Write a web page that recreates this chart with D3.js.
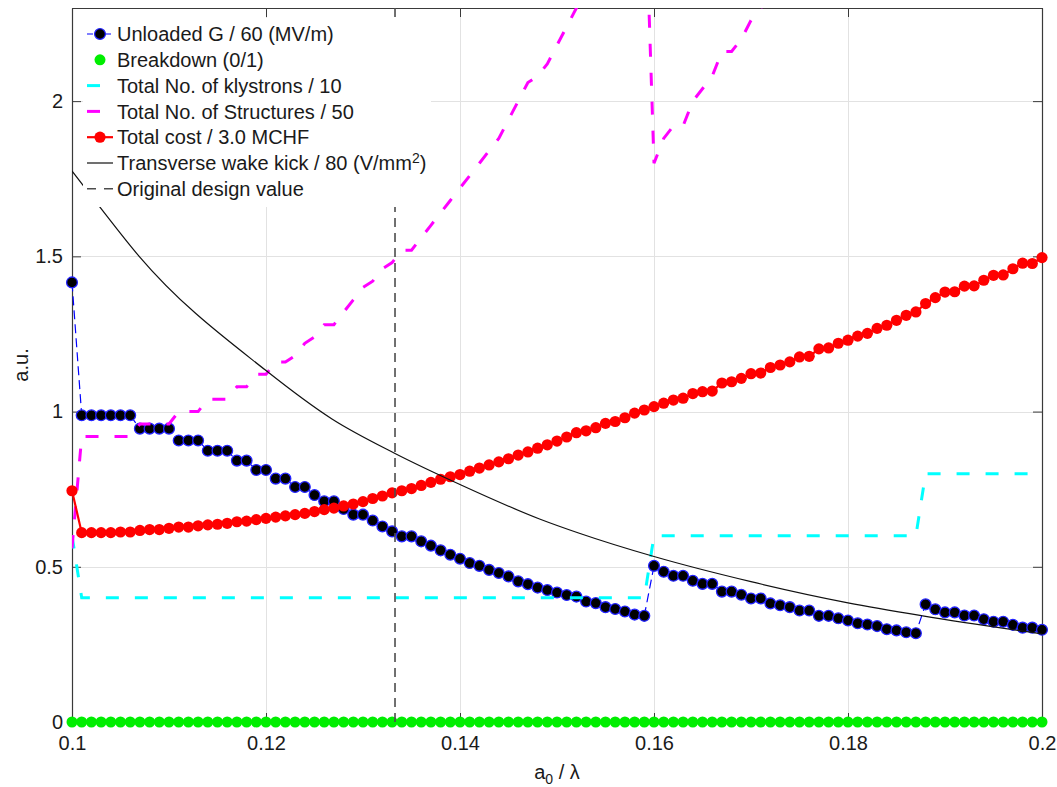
<!DOCTYPE html>
<html>
<head>
<meta charset="utf-8">
<script src="https://cdn.jsdelivr.net/npm/d3@7"></script>
<style>
  body { margin: 0; background: #fff; }
  svg { display: block; font-family: "Liberation Sans", Arial, Helvetica, sans-serif; }
</style>
</head>
<body>
<svg id="chart" width="1057" height="787"></svg>
<script>
// Aperture scan a0/lambda, one sample every 0.001
const aOverLambda = d3.range(101).map(i => +(0.1 + i * 0.001).toFixed(3));

// Unloaded gradient / 60 MV/m
const unloadedG = [
  1.416,
  0.988, 0.988, 0.988, 0.988, 0.988, 0.988,
  0.945, 0.945, 0.945, 0.945,
  0.907, 0.907, 0.907,
  0.874, 0.874, 0.874,
  0.842, 0.842,
  0.812, 0.812,
  0.784, 0.784,
  0.757, 0.757,
  0.731,
  0.711, 0.711,
  0.686,
  0.668, 0.668,
  0.649, 0.630, 0.614, 0.598, 0.598, 0.582, 0.568, 0.553, 0.539, 0.526,
  0.512, 0.503, 0.490, 0.480, 0.469, 0.453, 0.444, 0.433, 0.425, 0.417,
  0.409, 0.404, 0.388, 0.383, 0.370, 0.364, 0.356, 0.346, 0.342,
  0.503, 0.484, 0.471, 0.471, 0.455, 0.445, 0.445, 0.420, 0.420, 0.410,
  0.398, 0.398, 0.382, 0.376, 0.370, 0.359, 0.359, 0.342, 0.342, 0.334,
  0.327, 0.318, 0.314, 0.309, 0.299, 0.295, 0.289, 0.286,
  0.379, 0.363, 0.353, 0.353, 0.343, 0.343, 0.331, 0.323, 0.323, 0.313,
  0.304, 0.304, 0.297
];

// Breakdown flag (0 = no breakdown)
const breakdown = [
  0, 0, 0, 0, 0, 0, 0, 0, 0, 0, 0, 0, 0, 0, 0, 0, 0, 0, 0, 0,
  0, 0, 0, 0, 0, 0, 0, 0, 0, 0, 0, 0, 0, 0, 0, 0, 0, 0, 0, 0,
  0, 0, 0, 0, 0, 0, 0, 0, 0, 0, 0, 0, 0, 0, 0, 0, 0, 0, 0, 0,
  0, 0, 0, 0, 0, 0, 0, 0, 0, 0, 0, 0, 0, 0, 0, 0, 0, 0, 0, 0,
  0, 0, 0, 0, 0, 0, 0, 0, 0, 0, 0, 0, 0, 0, 0, 0, 0, 0, 0, 0,
  0
];

// Total number of klystrons / 10
const klystrons = [
  0.6,
  0.4, 0.4, 0.4, 0.4, 0.4, 0.4, 0.4, 0.4, 0.4, 0.4,
  0.4, 0.4, 0.4, 0.4, 0.4, 0.4, 0.4, 0.4, 0.4, 0.4,
  0.4, 0.4, 0.4, 0.4, 0.4, 0.4, 0.4, 0.4, 0.4, 0.4,
  0.4, 0.4, 0.4, 0.4, 0.4, 0.4, 0.4, 0.4, 0.4, 0.4,
  0.4, 0.4, 0.4, 0.4, 0.4, 0.4, 0.4, 0.4, 0.4, 0.4,
  0.4, 0.4, 0.4, 0.4, 0.4, 0.4, 0.4, 0.4, 0.4,
  0.6, 0.6, 0.6, 0.6, 0.6, 0.6, 0.6, 0.6, 0.6, 0.6,
  0.6, 0.6, 0.6, 0.6, 0.6, 0.6, 0.6, 0.6, 0.6, 0.6,
  0.6, 0.6, 0.6, 0.6, 0.6, 0.6, 0.6, 0.6,
  0.8, 0.8, 0.8, 0.8, 0.8, 0.8, 0.8, 0.8, 0.8, 0.8,
  0.8, 0.8, 0.8
];

// Total number of accelerating structures / 50
const structures = [
  0.56,
  0.92, 0.92, 0.92, 0.92, 0.92, 0.92,
  0.96, 0.96, 0.96, 0.96,
  1.00, 1.00, 1.00,
  1.04, 1.04, 1.04,
  1.08, 1.08,
  1.12, 1.12,
  1.16, 1.16,
  1.18, 1.22, 1.24, 1.28, 1.28, 1.32, 1.36, 1.40, 1.42, 1.46,
  1.48, 1.52, 1.52, 1.56, 1.60, 1.64, 1.68, 1.72, 1.76, 1.80,
  1.84, 1.88, 1.94, 2.00, 2.06, 2.08, 2.12, 2.18, 2.24, 2.30,
  2.36, 2.44, 2.50, 2.58, 2.64, 2.70, 2.76,
  1.80, 1.88, 1.92, 1.92, 2.00, 2.04, 2.08, 2.16, 2.16, 2.20,
  2.26, 2.30, 2.34, 2.40, 2.44, 2.48, 2.54, 2.58, 2.62, 2.68,
  2.72, 2.78, 2.82, 2.88, 2.92, 2.98, 3.04, 3.10,
  2.50, 2.54, 2.60, 2.64, 2.70, 2.74, 2.80, 2.86, 2.90, 2.96,
  3.02, 3.06, 3.12
];

// Total cost / 3.0 MCHF
const totalCost = [
  0.745,
  0.610, 0.610, 0.610, 0.610, 0.612, 0.612, 0.617, 0.620, 0.620, 0.624,
  0.628, 0.628, 0.632, 0.635, 0.637, 0.640, 0.645, 0.647, 0.652, 0.656,
  0.660, 0.664, 0.668, 0.672, 0.678, 0.684, 0.689, 0.696, 0.702, 0.710,
  0.720, 0.728, 0.738, 0.745, 0.752, 0.762, 0.772, 0.782, 0.790, 0.797,
  0.808, 0.818, 0.828, 0.838, 0.848, 0.860, 0.870, 0.882, 0.893, 0.905,
  0.918, 0.932, 0.938, 0.948, 0.962, 0.968, 0.980, 0.995, 1.005, 1.016,
  1.027, 1.037, 1.043, 1.058, 1.064, 1.066, 1.092, 1.096, 1.107, 1.122,
  1.124, 1.142, 1.150, 1.160, 1.176, 1.178, 1.202, 1.205, 1.220, 1.230,
  1.243, 1.252, 1.268, 1.278, 1.294, 1.310, 1.321, 1.348, 1.367, 1.385,
  1.386, 1.404, 1.405, 1.423, 1.439, 1.440, 1.460, 1.478, 1.477, 1.496
];

// Transverse wake kick / 80 V/mm^2 (smooth curve through these samples)
const kickX = [0.100, 0.1028, 0.1069, 0.120, 0.1268, 0.1333, 0.140, 0.1482,
               0.1523, 0.160, 0.170, 0.180, 0.1877, 0.200];
const kickY = [1.775, 1.662, 1.501, 1.132, 0.976, 0.865, 0.765, 0.654,
               0.608, 0.533, 0.452, 0.384, 0.342, 0.284];

// Original design value of a0/lambda
const designValue = [0.1333];

const xTicks = [0.1, 0.12, 0.14, 0.16, 0.18, 0.2];
const xTickLabels = ["0.1", "0.12", "0.14", "0.16", "0.18", "0.2"];
const yTicks = [0, 0.5, 1, 1.5, 2];
const yTickLabels = ["0", "0.5", "1", "1.5", "2"];

const legendLabels = [
  "Unloaded G / 60 (MV/m)",
  "Breakdown (0/1)",
  "Total No. of klystrons / 10",
  "Total No. of Structures / 50",
  "Total cost / 3.0 MCHF",
  "Transverse wake kick / 80 (V/mm",
  "Original design value"
];

// ---- layout ----
const svg = d3.select("#chart");
const L = 72, R = 1042, T = 8, B = 722;
const x = d3.scaleLinear().domain([0.1, 0.2]).range([L, R]);
const y = d3.scaleLinear().domain([0, 2.3]).range([B, T]);
const FONT = 20;
const textColor = "#1a1a1a";
const axisColor = "#3a3a3a";

svg.append("defs").append("clipPath").attr("id", "plotClip")
  .append("rect").attr("x", L).attr("y", T).attr("width", R - L).attr("height", B - T);

// grid
const grid = svg.append("g").attr("stroke", "#e2e2e2").attr("stroke-width", 1);
grid.selectAll(".gx").data(xTicks.slice(1, -1)).join("line")
  .attr("x1", d => Math.round(x(d)) + 0.5).attr("x2", d => Math.round(x(d)) + 0.5)
  .attr("y1", T).attr("y2", B);
grid.selectAll(".gy").data(yTicks.slice(1)).join("line")
  .attr("y1", d => Math.round(y(d)) + 0.5).attr("y2", d => Math.round(y(d)) + 0.5)
  .attr("x1", L).attr("x2", R);

// axes (ticks pointing inward, box on all four sides)
function styleAxis(g) {
  g.select(".domain").attr("stroke", axisColor).attr("stroke-width", 1.2).attr("fill", "none");
  g.selectAll(".tick line").attr("stroke", axisColor).attr("stroke-width", 1);
  g.selectAll(".tick text").attr("fill", textColor)
    .style("font-size", FONT + "px").style("font-family", '"Liberation Sans", Arial, sans-serif');
}
const axes = svg.append("g");
axes.append("g").attr("transform", `translate(0,${B})`)
  .call(d3.axisBottom(x).tickValues(xTicks).tickFormat((d, i) => xTickLabels[i])
    .tickSizeInner(-9).tickSizeOuter(0).tickPadding(14))
  .call(styleAxis);
axes.append("g").attr("transform", `translate(0,${T})`)
  .call(d3.axisTop(x).tickValues(xTicks).tickFormat("").tickSizeInner(-9).tickSizeOuter(0))
  .call(styleAxis);
axes.append("g").attr("transform", `translate(${L},0)`)
  .call(d3.axisLeft(y).tickValues(yTicks).tickFormat((d, i) => yTickLabels[i])
    .tickSizeInner(-9).tickSizeOuter(0).tickPadding(9))
  .call(styleAxis);
axes.append("g").attr("transform", `translate(${R},0)`)
  .call(d3.axisRight(y).tickValues(yTicks).tickFormat("").tickSizeInner(-9).tickSizeOuter(0))
  .call(styleAxis);

// axis titles
const xl = svg.append("text").attr("x", (L + R) / 2).attr("y", 779)
  .attr("text-anchor", "middle").attr("fill", textColor).style("font-size", FONT + "px");
xl.append("tspan").text("a");
xl.append("tspan").attr("dy", 5).style("font-size", "14px").text("0");
xl.append("tspan").attr("dy", -5).text(" / λ");

svg.append("text").attr("transform", `translate(28,${(T + B) / 2}) rotate(-90)`)
  .attr("text-anchor", "middle").attr("fill", textColor).style("font-size", FONT + "px")
  .text("a.u.");

// ---- series ----
const pts = (ys) => aOverLambda.map((a, i) => [a, ys[i]]);
const line = d3.line().x(d => x(d[0])).y(d => y(d[1]));
const plot = svg.append("g");
const clipped = () => plot.append("g").attr("clip-path", "url(#plotClip)");

// unloaded gradient: blue dashed line + black dots with blue edge
clipped().append("path").datum(pts(unloadedG)).attr("d", line)
  .attr("fill", "none").attr("stroke", "#0000ff").attr("stroke-width", 1.2)
  .attr("stroke-dasharray", "9,5");
plot.append("g").selectAll("circle").data(pts(unloadedG)).join("circle")
  .attr("cx", d => x(d[0])).attr("cy", d => y(d[1])).attr("r", 5.4)
  .attr("fill", "#000").attr("stroke", "#2222ff").attr("stroke-width", 1.3);

// breakdown
plot.append("g").selectAll("circle").data(pts(breakdown)).join("circle")
  .attr("cx", d => x(d[0])).attr("cy", d => y(d[1])).attr("r", 5.5)
  .attr("fill", "#00ee00");

// klystrons
clipped().append("path").datum(pts(klystrons)).attr("d", line)
  .attr("fill", "none").attr("stroke", "#00ffff").attr("stroke-width", 3)
  .attr("stroke-dasharray", "13,16");

// structures
clipped().append("path").datum(pts(structures)).attr("d", line)
  .attr("fill", "none").attr("stroke", "#ff00ff").attr("stroke-width", 3)
  .attr("stroke-dasharray", "13,16");

// total cost
clipped().append("path").datum(pts(totalCost)).attr("d", line)
  .attr("fill", "none").attr("stroke", "#ff0000").attr("stroke-width", 2.2);
plot.append("g").selectAll("circle").data(pts(totalCost)).join("circle")
  .attr("cx", d => x(d[0])).attr("cy", d => y(d[1])).attr("r", 5.6)
  .attr("fill", "#ff0000");

// transverse wake kick
const kickLine = d3.line().curve(d3.curveMonotoneX).x(d => x(d[0])).y(d => y(d[1]));
clipped().append("path").datum(kickX.map((a, i) => [a, kickY[i]])).attr("d", kickLine)
  .attr("fill", "none").attr("stroke", "#111").attr("stroke-width", 1.2);

// original design value
clipped().selectAll(".design").data(designValue).join("line")
  .attr("x1", d => x(d)).attr("x2", d => x(d)).attr("y1", y(0)).attr("y2", T)
  .attr("stroke", "#4d4d4d").attr("stroke-width", 1.6).attr("stroke-dasharray", "9,6");

// ---- legend ----
const lg = svg.append("g");
lg.append("rect").attr("x", 83).attr("y", 18).attr("width", 348).attr("height", 189)
  .attr("fill", "#fff");
const rowY = i => 34 + i * 25.8;
const lx0 = 87, lx1 = 113, lxm = 100;
const rows = lg.selectAll(".row").data(legendLabels).join("g")
  .attr("transform", (d, i) => `translate(0,${rowY(i)})`);
rows.append("text").attr("x", 117).attr("dy", "0.36em").attr("fill", textColor)
  .style("font-size", FONT + "px")
  .each(function (d, i) {
    const t = d3.select(this);
    t.append("tspan").text(d);
    if (i === 5) {
      t.append("tspan").attr("dy", -7).style("font-size", "14px").text("2");
      t.append("tspan").attr("dy", 7).text(")");
    }
  });
// symbols
const sym = i => lg.append("g").attr("transform", `translate(0,${rowY(i)})`);
sym(0).append("line").attr("x1", lx0).attr("x2", lx1).attr("stroke", "#0000ff")
  .attr("stroke-width", 1.2).attr("stroke-dasharray", "6,3");
sym(0).append("circle").attr("cx", lxm).attr("r", 5.4).attr("fill", "#000")
  .attr("stroke", "#2222ff").attr("stroke-width", 1.3);
sym(1).append("circle").attr("cx", lxm).attr("r", 5.5).attr("fill", "#00ee00");
sym(2).append("line").attr("x1", lx0).attr("x2", lx1).attr("stroke", "#00ffff")
  .attr("stroke-width", 3).attr("stroke-dasharray", "13,16");
sym(3).append("line").attr("x1", lx0).attr("x2", lx1).attr("stroke", "#ff00ff")
  .attr("stroke-width", 3).attr("stroke-dasharray", "13,16");
sym(4).append("line").attr("x1", lx0).attr("x2", lx1).attr("stroke", "#ff0000")
  .attr("stroke-width", 2.2);
sym(4).append("circle").attr("cx", lxm).attr("r", 5.6).attr("fill", "#ff0000");
sym(5).append("line").attr("x1", lx0).attr("x2", lx1).attr("stroke", "#111")
  .attr("stroke-width", 1.2);
sym(6).append("line").attr("x1", lx0).attr("x2", lx1).attr("stroke", "#4d4d4d")
  .attr("stroke-width", 1.6).attr("stroke-dasharray", "9,8");
</script>
</body>
</html>
